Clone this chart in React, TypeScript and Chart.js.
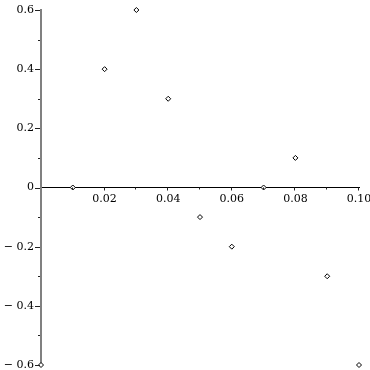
import React, { useEffect, useRef } from "react";
import { Chart, registerables } from "chart.js";

Chart.register(...registerables);

const xValues = [0, 0.01, 0.02, 0.03, 0.04, 0.05, 0.06, 0.07, 0.08, 0.09, 0.1];
const yValues = [-0.6, 0, 0.4, 0.6, 0.3, -0.1, -0.2, 0, 0.1, -0.3, -0.6];
const xMin = 0;
const xMax = 0.1;
const xStep = 0.01;
const yMin = -0.6;
const yMax = 0.6;
const yStep = 0.1;

const FONT = "'DejaVu Serif', serif";

const fmt = (v: number, d: number) =>
  v === 0 ? "0" : (v < 0 ? "\u2212\u2004" : "") + Math.abs(v).toFixed(d);

const tickMarks = {
  id: "tickMarks",
  afterDatasetsDraw(chart: any) {
    const ctx = chart.ctx;
    const xs = chart.scales.x;
    const ys = chart.scales.y;
    const x0 = xs.getPixelForValue(0);
    const y0 = ys.getPixelForValue(0);
    ctx.save();
    ctx.strokeStyle = "#222";
    ctx.lineWidth = 1;
    ys.ticks.forEach((t: any) => {
      const major = Math.round(t.value * 10) % 2 === 0;
      const len = major ? 5 : 2;
      const py = Math.round(ys.getPixelForValue(t.value)) + 0.5;
      ctx.beginPath();
      ctx.moveTo(x0 - 1 - len, py);
      ctx.lineTo(x0 - 1, py);
      ctx.stroke();
    });
    xs.ticks.forEach((t: any) => {
      if (t.value === 0) return;
      const major = Math.round(t.value * 100) % 2 === 0;
      const len = major ? 3 : 2;
      const px = Math.round(xs.getPixelForValue(t.value)) - 0.5;
      ctx.beginPath();
      ctx.moveTo(px, y0);
      ctx.lineTo(px, y0 + len);
      ctx.stroke();
    });
    ctx.restore();
  },
};

export default function App() {
  const ref = useRef<HTMLCanvasElement>(null);
  useEffect(() => {
    if (!ref.current) return;
    const zeroPad = (s: any) => {
      s.paddingLeft = 0;
      s.paddingRight = 0;
      s.paddingTop = 0;
      s.paddingBottom = 0;
    };
    const chart = new Chart(ref.current, {
      type: "scatter",
      data: {
        datasets: [
          {
            data: xValues.map((x, i) => ({ x, y: yValues[i] })),
            pointStyle: "rectRot",
            pointRadius: 2.5,
            pointBorderWidth: 1,
            pointBackgroundColor: "#fff",
            pointBorderColor: "#000",
            clip: false as any,
          },
        ],
      },
      options: {
        animation: false,
        responsive: false,
        layout: { padding: { left: 0, right: 11, top: 10, bottom: 2 } },
        plugins: { legend: { display: false }, tooltip: { enabled: false } },
        scales: {
          x: {
            type: "linear",
            min: xMin,
            max: xMax,
            position: { y: 0 } as any,
            afterFit: zeroPad,
            grid: { display: false, drawTicks: false },
            border: { display: true, color: "#000", width: 1 },
            ticks: {
              stepSize: xStep,
              autoSkip: false,
              maxRotation: 0,
              padding: 5,
              color: "#000",
              font: { family: FONT, size: 11 },
              callback: (v: any) => {
                const n = Number(v);
                if (n === 0) return "";
                return Math.round(n * 100) % 2 === 0 ? n.toFixed(2) : "";
              },
            },
          },
          y: {
            type: "linear",
            min: yMin,
            max: yMax,
            position: "left",
            afterFit: (s: any) => {
              zeroPad(s);
              s.width = 41;
            },
            grid: { display: false, drawTicks: false },
            border: { display: true, color: "#808080", width: 2 },
            ticks: {
              stepSize: yStep,
              autoSkip: false,
              padding: 7,
              color: "#000",
              font: { family: FONT, size: 11 },
              callback: (v: any) => {
                const n = Number(v);
                return Math.round(n * 10) % 2 === 0 ? fmt(n, 1) : "";
              },
            },
          },
        },
      },
      plugins: [tickMarks],
    });
    return () => chart.destroy();
  }, []);
  return (
    <div style={{ position: "absolute", left: 0, top: 0, width: 370, height: 370 }}>
      <canvas ref={ref} width={370} height={370} style={{ width: 370, height: 370 }} />
    </div>
  );
}
